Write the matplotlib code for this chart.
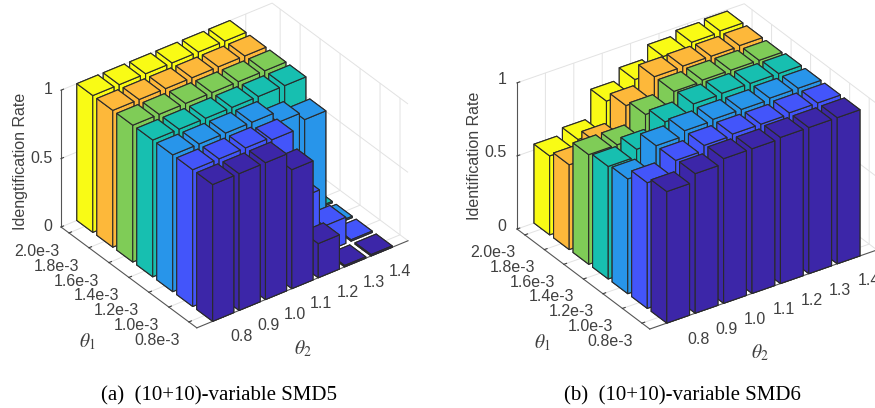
import numpy as np
import matplotlib
matplotlib.use('Agg')
import matplotlib.pyplot as plt
from matplotlib.text import Text
from matplotlib.transforms import Affine2D
from mpl_toolkits.mplot3d import proj3d

plt.rcParams['font.family'] = ['Liberation Sans', 'DejaVu Sans']
plt.rcParams['mathtext.fontset'] = 'stix'

theta1_labels = ['2.0e-3', '1.8e-3', '1.6e-3', '1.4e-3', '1.2e-3', '1.0e-3', '0.8e-3']
theta2_labels = ['0.8', '0.9', '1.0', '1.1', '1.2', '1.3', '1.4']
row_colors = ['#F9FB15', '#FDB83A', '#7FCC57', '#17BFB0', '#2895EA', '#4355FA', '#3C26A8']
z_ticks = [0, 0.5, 1]
z_ticklabels = ['0', '0.5', '1']

rate_smd5 = [
    [1.00, 1.00, 1.00, 1.00, 1.00, 1.00, 0.01],
    [1.00, 1.00, 1.00, 1.00, 1.00, 1.00, 0.01],
    [1.00, 1.00, 1.00, 1.00, 1.00, 1.00, 0.01],
    [1.00, 1.00, 1.00, 1.00, 1.00, 1.00, 0.01],
    [1.00, 1.00, 1.00, 1.00, 0.92, 0.86, 0.01],
    [1.00, 1.00, 1.00, 0.98, 0.47, 0.19, 0.01],
    [1.00, 1.00, 1.00, 0.87, 0.25, 0.01, 0.01],
]
rate_smd6 = [
    [0.54, 0.585, 0.78, 0.86, 0.95, 0.98, 0.99],
    [0.58, 0.66, 0.85, 0.98, 0.985, 0.985, 0.99],
    [0.75, 0.75, 0.89, 0.98, 0.99, 0.99, 0.99],
    [0.77, 0.82, 0.94, 0.995, 1.00, 1.00, 1.00],
    [0.785, 0.945, 0.98, 0.99, 0.99, 1.00, 1.00],
    [0.86, 0.945, 0.98, 0.99, 0.99, 1.00, 1.00],
    [0.90, 0.955, 0.99, 0.99, 1.00, 1.00, 1.00],
]

W, H = 875, 408
fig = plt.figure(figsize=(W / 100, H / 100), dpi=100, facecolor='white')
TEXT = '#404040'


def corners(ax):
    ax.M = ax.get_proj()
    pts = []
    xl, yl = ax.get_xlim(), ax.get_ylim()
    for X, Y in [(xl[0], yl[0]), (xl[1], yl[0]), (xl[1], yl[1])]:
        x, y, _ = proj3d.proj_transform(X, Y, 0, ax.M)
        pts.append(ax.transData.transform((x, y)))
    return np.array(pts)


def fit(ax, left, right):
    """Scale and shift the square 3D axes until box corners land on pixel targets."""
    left_px = np.array([left[0], H - left[1]], float)
    span = right[0] - left[0]
    S = 300.0
    cx, cy = 200.0, 200.0
    for _ in range(4):
        ax.set_position([(cx - S / 2) / W, (cy - S / 2) / H, S / W, S / H])
        ax.apply_aspect()
        c = corners(ax)
        S *= span / (c[2][0] - c[0][0])
        ax.set_position([(cx - S / 2) / W, (cy - S / 2) / H, S / W, S / H])
        ax.apply_aspect()
        c = corners(ax)
        cx += left_px[0] - c[0][0]
        cy += left_px[1] - c[0][1]
    ax.set_position([(cx - S / 2) / W, (cy - S / 2) / H, S / W, S / H])


def shift(ax, artist, dx, dy, ha=None):
    """Apply a pixel offset at draw time, after Axis3D has reset the text's transform."""
    moved = ax.transData + Affine2D().translate(dx, dy)
    original_draw = artist.draw

    def draw(renderer):
        Text.set_transform(artist, moved)
        if ha:
            Text.set_ha(artist, ha)
        original_draw(renderer)

    artist.draw = draw


def panel(rate, left, right, aspect, elev, azim, zlabel, off):
    ax = fig.add_axes([0.1, 0.1, 0.3, 0.6], projection='3d', proj_type='ortho')
    ax.computed_zorder = False
    ax.patch.set_visible(False)
    ax.view_init(elev=elev, azim=azim)
    ax.set_box_aspect(aspect)
    ax.set_xlim(0.6, 7.4)
    ax.set_ylim(0, 8)
    ax.set_zlim(0, 1)
    order = 0
    for r in range(7):
        for c in range(6, -1, -1):
            order += 1
            ax.bar3d(r + 1 - 0.4, c + 1 - 0.4, 0, 0.8, 0.8, rate[r][c],
                     color=row_colors[r], edgecolor='#2a2a2a', linewidth=0.8,
                     shade=False, zorder=order)
    ax.set_xticks(range(1, 8))
    ax.set_xticklabels(theta1_labels)
    ax.set_yticks(range(1, 8))
    ax.set_yticklabels(theta2_labels)
    ax.set_zticks(z_ticks)
    ax.set_zticklabels(z_ticklabels)
    ax.zaxis.set_ticks_position('lower')
    ax.zaxis.set_label_position('lower')
    for axis in (ax.xaxis, ax.yaxis, ax.zaxis):
        axis.set_pane_color((1, 1, 1, 0))
        axis.pane.set_edgecolor('none')
        axis.line.set_color('#555555')
        axis.line.set_linewidth(0.8)
        axis._axinfo['grid'].update(color='#e2e2e2', linewidth=0.7)
        axis._axinfo['tick'].update(inward_factor=0.0, outward_factor=0.15)
    ax.tick_params(labelsize=11.5, colors=TEXT, pad=2)
    ax.set_xlabel(r'$\theta_1$', fontsize=14, color=TEXT, labelpad=8)
    ax.set_ylabel(r'$\theta_2$', fontsize=14, color=TEXT, labelpad=8)
    ax.xaxis.set_rotate_label(False)
    ax.yaxis.set_rotate_label(False)
    ax.zaxis.set_rotate_label(False)
    ax.set_zlabel(zlabel, fontsize=11.5, color=TEXT, rotation=90, labelpad=4)
    for tick in ax.xaxis.get_major_ticks():
        shift(ax, tick.label1, *off['xt'])
    for tick in ax.yaxis.get_major_ticks():
        shift(ax, tick.label1, *off['yt'])
    for tick in ax.zaxis.get_major_ticks():
        shift(ax, tick.label1, *off['zt'], ha='right')
    shift(ax, ax.xaxis.label, *off['xl'])
    shift(ax, ax.yaxis.label, *off['yl'])
    shift(ax, ax.zaxis.label, *off['zl'])
    fit(ax, left, right)
    return ax


panel(rate_smd5, (61, 227), (408, 242), (227, 263, 164), 33.6, -36.7, 'Idengtification Rate',
      dict(xt=(-17, 5), yt=(9, 5), zt=(16, 7), xl=(2, -18), yl=(-28, -15), zl=(21, -5)))
panel(rate_smd6, (517, 229), (877, 250), (236, 274.5, 170), 30.8, -34.2, 'Identification Rate',
      dict(xt=(-16, 5), yt=(11, 4), zt=(14, 9), xl=(4, -19), yl=(-30, -14), zl=(19, -3)))
fig.text(219 / W, 1 - 396 / H, '(a)  (10+10)-variable SMD5', family='Liberation Serif', fontsize=15, ha='center', va='center', color='black')
fig.text(682 / W, 1 - 396 / H, '(b)  (10+10)-variable SMD6', family='Liberation Serif', fontsize=15, ha='center', va='center', color='black')
fig.savefig('out.png', dpi=100)
